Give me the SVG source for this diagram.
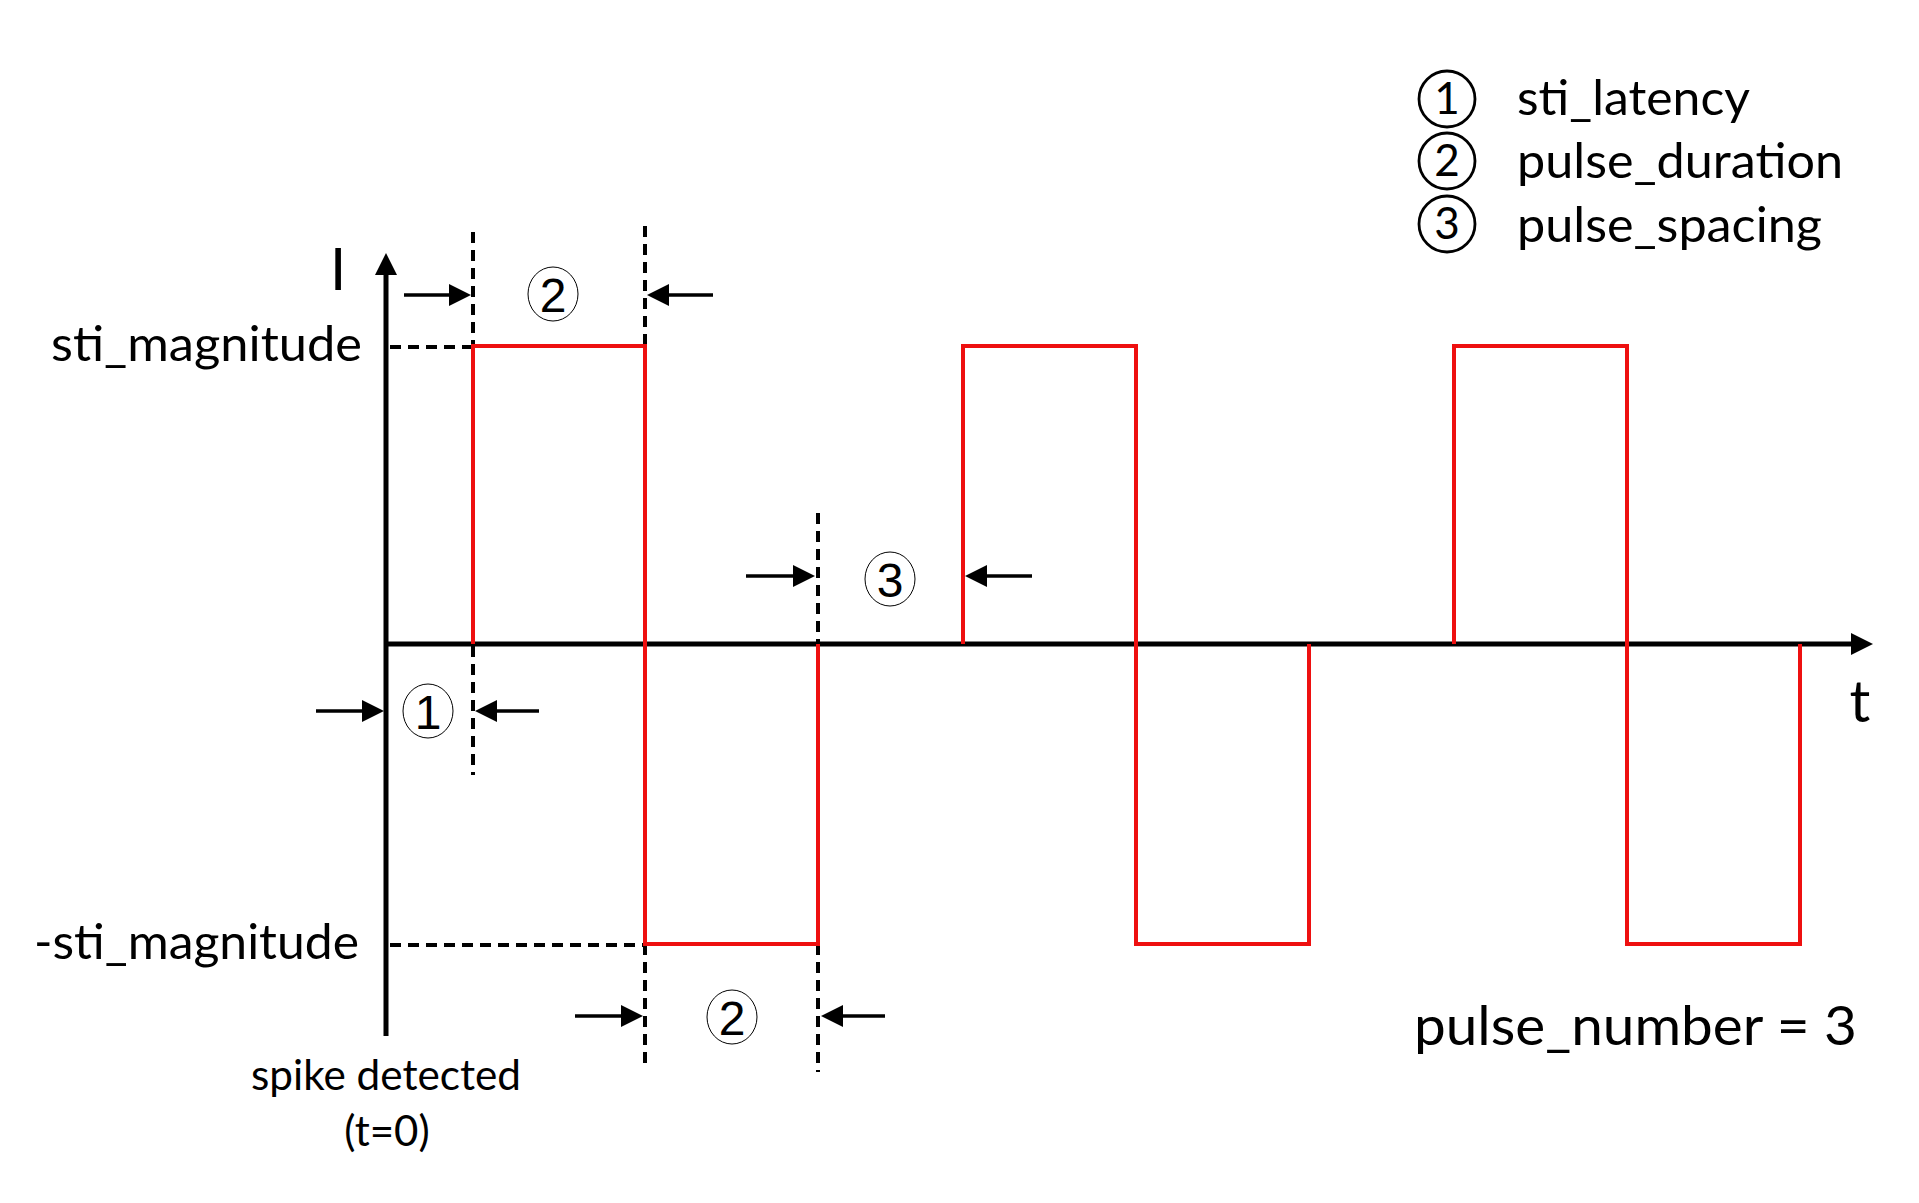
<svg xmlns="http://www.w3.org/2000/svg" width="1919" height="1203" viewBox="0 0 1919 1203">
<style>
.lbl{font-family:Lato,"Open Sans","Liberation Sans",sans-serif;fill:#000}
.dig{font-family:"Liberation Sans",Arial,sans-serif;fill:#000;text-anchor:middle}
.axis{stroke:#000;stroke-width:5;fill:none}
.arr{stroke:#000;stroke-width:3.5;fill:none;marker-end:url(#ah)}
.dash{stroke:#000;stroke-width:4;fill:none;stroke-dasharray:11 7}
.pulse{stroke:#ee1010;stroke-width:4;fill:none;stroke-linejoin:miter}
.thin{fill:none;stroke:#000;stroke-width:1}
.leg{fill:none;stroke:#000;stroke-width:2.8}
</style>
<defs>
<marker id="ah" markerUnits="userSpaceOnUse" markerWidth="22" markerHeight="22" refX="0" refY="11" orient="auto" overflow="visible">
<path d="M0,0 L22,11 L0,22 Z" fill="#000"/>
</marker>
</defs>
<rect x="0" y="0" width="1919" height="1203" fill="#fff"/>

<g id="guides">
<line class="dash" x1="390" y1="347" x2="473" y2="347"/>
<line class="dash" x1="390" y1="945" x2="645" y2="945"/>
<line class="dash" x1="473" y1="232" x2="473" y2="775"/>
<line class="dash" x1="645" y1="226" x2="645" y2="346"/>
<line class="dash" x1="645" y1="944" x2="645" y2="1066"/>
<line class="dash" x1="818" y1="513" x2="818" y2="644"/>
<line class="dash" x1="818" y1="944" x2="818" y2="1072"/>
</g>

<g id="axes">
<line class="axis" x1="386" y1="1036" x2="386" y2="275" marker-end="url(#ah)"/>
<line class="axis" x1="384" y1="644" x2="1851" y2="644" marker-end="url(#ah)"/>
<text class="lbl" x="338" y="290" font-size="58" text-anchor="middle">I</text>
<text class="lbl" x="1860" y="722" font-size="58" text-anchor="middle">t</text>
<text class="lbl" x="362" y="361" font-size="48" text-anchor="end" textLength="311" lengthAdjust="spacingAndGlyphs">sti_magnitude</text>
<text class="lbl" x="359" y="959" font-size="48" text-anchor="end" textLength="325" lengthAdjust="spacingAndGlyphs">-sti_magnitude</text>
<text class="lbl" x="386" y="1090" font-size="42" text-anchor="middle" textLength="270" lengthAdjust="spacingAndGlyphs">spike detected</text>
<text class="lbl" x="387" y="1146" font-size="42" text-anchor="middle">(t=0)</text>
</g>

<g id="waveform">
<path class="pulse" d="M473,644 V346 H645 V944 H818 V644 M963,644 V346 H1136 V944 H1309 V644 M1454,644 V346 H1627 V944 H1800 V644"/>
</g>

<g id="connectors">
<line class="arr" x1="404" y1="295" x2="449" y2="295"/>
<line class="arr" x1="713" y1="295" x2="669" y2="295"/>
<line class="arr" x1="316" y1="711" x2="362" y2="711"/>
<line class="arr" x1="539" y1="711" x2="497" y2="711"/>
<line class="arr" x1="746" y1="576" x2="793" y2="576"/>
<line class="arr" x1="1032" y1="576" x2="987" y2="576"/>
<line class="arr" x1="575" y1="1016" x2="621" y2="1016"/>
<line class="arr" x1="885" y1="1016" x2="843" y2="1016"/>
</g>

<g id="mark-duration-top">
<ellipse class="thin" cx="553" cy="294" rx="25" ry="27"/>
<text class="dig" x="553" y="312" font-size="48">2</text>
</g>
<g id="mark-latency">
<ellipse class="thin" cx="428" cy="711" rx="25" ry="27"/>
<text class="dig" x="428" y="729" font-size="48">1</text>
</g>
<g id="mark-spacing">
<ellipse class="thin" cx="890" cy="579" rx="25" ry="27"/>
<text class="dig" x="890" y="597" font-size="48">3</text>
</g>
<g id="mark-duration-bottom">
<ellipse class="thin" cx="732" cy="1017" rx="25" ry="27"/>
<text class="dig" x="732" y="1035" font-size="48">2</text>
</g>

<g id="legend">
<circle class="leg" cx="1447" cy="99" r="28"/>
<text class="lbl" x="1447" y="114" font-size="44" text-anchor="middle">1</text>
<circle class="leg" cx="1447" cy="161" r="28"/>
<text class="lbl" x="1447" y="176" font-size="44" text-anchor="middle">2</text>
<circle class="leg" cx="1447" cy="224" r="28"/>
<text class="lbl" x="1447" y="239" font-size="44" text-anchor="middle">3</text>
<text class="lbl" x="1517" y="115" font-size="48" textLength="233" lengthAdjust="spacingAndGlyphs">sti_latency</text>
<text class="lbl" x="1517" y="178" font-size="48" textLength="326" lengthAdjust="spacingAndGlyphs">pulse_duration</text>
<text class="lbl" x="1517" y="242" font-size="48" textLength="305" lengthAdjust="spacingAndGlyphs">pulse_spacing</text>
</g>

<g id="pulse-number">
<text class="lbl" x="1414" y="1045" font-size="54" textLength="443" lengthAdjust="spacingAndGlyphs">pulse_number = 3</text>
</g>
</svg>
